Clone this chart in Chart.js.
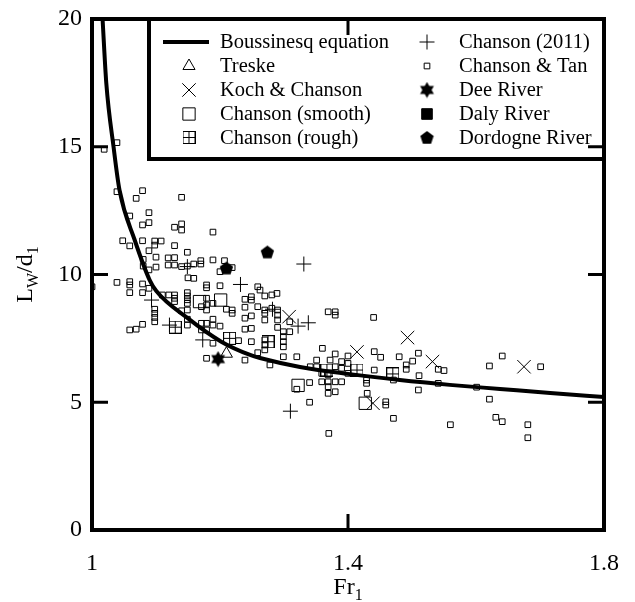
<!DOCTYPE html>
<html>
<head>
<meta charset="utf-8">
<script src="https://cdn.jsdelivr.net/npm/chart.js@4.4.1/dist/chart.umd.min.js"></script>
<style>
  html, body { margin: 0; padding: 0; background: #fff; }
  #wrap { width: 635px; height: 602px; }
</style>
</head>
<body>
<div id="wrap"><canvas id="wavelengthChart" width="635" height="602"></canvas></div>
<script>
// axis ticks
const xTicks = [1, 1.4, 1.8];
const yTicks = [0, 5, 10, 15, 20];

// Boussinesq equation
const boussFr = [1.0165, 1.0223, 1.0339, 1.043, 1.0667, 1.0901, 1.1005, 1.15, 1.202, 1.247, 1.2625, 1.325, 1.4, 1.481, 1.559, 1.6375, 1.716, 1.8];
const boussL  = [20.0, 17.5, 14.95, 13.3, 11.35, 9.78, 9.35, 8.28, 7.37, 6.85, 6.73, 6.38, 6.11, 5.87, 5.68, 5.52, 5.36, 5.21];

// Treske
const treskeFr = [1.210];
const treskeL  = [6.9];

// Koch & Chanson
const kochFr = [1.308, 1.414, 1.493, 1.532, 1.439, 1.675];
const kochL  = [8.35, 6.97, 7.53, 6.59, 4.96, 6.39];

// Chanson (smooth)
const smoothFr = [1.168, 1.201, 1.322, 1.427];
const smoothL  = [8.94, 9.0, 5.66, 4.96];

// Chanson (rough)
const roughFr = [1.130, 1.215, 1.275, 1.367, 1.414, 1.470];
const roughL  = [7.94, 7.50, 7.37, 6.26, 6.26, 6.11];

// Chanson (2011)
const ch2011Fr = [1.093, 1.121, 1.173, 1.149, 1.232, 1.282, 1.322, 1.338, 1.331, 1.310];
const ch2011L  = [9.0, 8.02, 7.44, 10.31, 9.61, 8.64, 7.98, 8.11, 10.41, 4.65];

// Chanson & Tan
const tanFr = [
  1.039, 1.019, 1.039, 1.079, 1.069, 1.140, 1.089, 1.059, 1.089, 1.079, 1.140, 1.129, 1.140, 1.189, 1.048, 1.059,
  1.079, 1.098, 1.108, 1.098, 1.129, 1.149, 1.089, 1.080, 1.100, 1.119, 1.129, 1.119, 1.129, 1.080, 1.089, 1.100,
  1.140, 1.149, 1.159, 1.170, 1.170, 1.189, 1.200, 1.207, 1.219, 1.039, 1.059, 1.059, 1.079, 1.089, 1.150, 1.159,
  1.179, 1.200, 1.259, 1.000, 1.2625, 1.281, 1.289, 1.059, 1.079, 1.179, 1.270, 1.110, 1.120, 1.129, 1.129, 1.129,
  1.149, 1.149, 1.149, 1.149, 1.179, 1.179, 1.189, 1.179, 1.171, 1.210, 1.219, 1.219, 1.239, 1.249, 1.249, 1.239,
  1.259, 1.270, 1.270, 1.270, 1.098, 1.098, 1.098, 1.098, 1.140, 1.149, 1.149, 1.149, 1.059, 1.069, 1.079, 1.171,
  1.179, 1.189, 1.189, 1.200, 1.179, 1.171, 1.239, 1.249, 1.239, 1.249, 1.229, 1.249, 1.189, 1.179, 1.239, 1.259,
  1.270, 1.270, 1.270, 1.281, 1.290, 1.290, 1.290, 1.369, 1.380, 1.380, 1.309, 1.290, 1.299, 1.299, 1.299, 1.299,
  1.440, 1.360, 1.441, 1.451, 1.480, 1.510, 1.501, 1.491, 1.491, 1.511, 1.441, 1.510, 1.430, 1.340, 1.340, 1.459,
  1.459, 1.471, 1.309, 1.299, 1.278, 1.320, 1.380, 1.372, 1.380, 1.351, 1.341, 1.351, 1.400, 1.400, 1.400, 1.390,
  1.390, 1.359, 1.369, 1.359, 1.369, 1.380, 1.390, 1.369, 1.369, 1.380, 1.320, 1.471, 1.429, 1.429, 1.541, 1.550,
  1.541, 1.641, 1.621, 1.701, 1.601, 1.621, 1.560, 1.631, 1.641, 1.681, 1.681, 1.370
];
const tanL = [
  15.16, 14.90, 13.24, 13.28, 12.98, 13.02, 12.42, 12.29, 12.03, 11.94, 11.98, 11.85, 11.74, 11.66, 11.32, 11.12,
  11.32, 11.31, 11.31, 11.15, 11.13, 10.87, 10.93, 10.59, 10.68, 10.65, 10.66, 10.37, 10.37, 10.33, 10.18, 10.29,
  10.31, 10.33, 10.41, 10.54, 10.41, 10.57, 10.11, 10.54, 10.27, 9.69, 9.72, 9.59, 9.63, 9.46, 9.87, 9.85,
  9.59, 9.56, 9.52, 9.52, 9.39, 9.20, 9.26, 9.29, 9.29, 9.48, 9.16, 9.20, 9.20, 9.20, 9.07, 8.94,
  9.29, 9.16, 9.01, 8.87, 9.07, 8.81, 8.87, 8.61, 8.74, 8.64, 8.61, 8.48, 9.03, 9.13, 9.00, 8.72,
  8.74, 8.61, 8.48, 8.22, 8.64, 8.48, 8.32, 8.15, 8.58, 8.61, 8.25, 8.02, 7.83, 7.86, 8.05, 8.09,
  8.09, 8.25, 8.02, 7.98, 7.83, 7.83, 8.29, 8.38, 7.86, 7.89, 7.41, 7.37, 7.31, 6.72, 6.65, 6.94,
  7.05, 7.44, 7.24, 8.68, 8.61, 8.41, 8.22, 8.54, 8.54, 8.41, 8.15, 7.93, 7.76, 7.57, 7.37, 7.17,
  8.32, 7.11, 6.98, 6.76, 6.78, 6.92, 6.61, 6.46, 6.29, 6.04, 6.26, 5.48, 5.35, 5.77, 5.00, 5.02,
  4.89, 4.37, 7.76, 6.78, 6.46, 6.78, 6.89, 6.65, 6.39, 6.65, 6.39, 6.39, 6.81, 6.52, 6.13, 6.59,
  6.33, 6.13, 6.07, 5.80, 5.80, 5.80, 5.80, 5.61, 5.35, 5.41, 5.51, 5.87, 5.87, 5.74, 6.29, 6.24,
  5.74, 6.81, 6.42, 6.39, 5.59, 5.12, 4.12, 4.41, 4.24, 4.12, 3.61, 3.78
];

// Dee River
const deeFr = [1.197];
const deeL  = [6.69];

// Daly River
const dalyFr = [];
const dalyL  = [];

// Dordogne River
const dordogneFr = [1.274, 1.210];
const dordogneL  = [10.88, 10.25];

const serif = "'Liberation Serif', 'Times New Roman', serif";
const pts = (xs, ys) => xs.map((x, i) => ({ x: x, y: ys[i] }));

// small canvases for the markers that Chart.js has no built-in style for
function markCanvas(size, draw) {
  const c = document.createElement('canvas');
  c.width = size;
  c.height = size;
  draw(c.getContext('2d'), size);
  return c;
}

const roughMark = markCanvas(13, (g, s) => {
  g.strokeStyle = '#000';
  g.lineWidth = 1;
  g.strokeRect(0.5, 0.5, s - 1, s - 1);
  g.beginPath();
  g.moveTo(6.5, 0.5); g.lineTo(6.5, s - 0.5);
  g.moveTo(0.5, 6.5); g.lineTo(s - 0.5, 6.5);
  g.stroke();
});

const starMark = markCanvas(17, (g, s) => {
  const c = s / 2, r = 8;
  g.fillStyle = '#000';
  [0, Math.PI].forEach(rot => {
    g.beginPath();
    for (let k = 0; k < 3; k++) {
      const a = rot - Math.PI / 2 + k * 2 * Math.PI / 3;
      g.lineTo(c + r * Math.cos(a), c + r * Math.sin(a));
    }
    g.closePath();
    g.fill();
  });
});

const pentagonMark = markCanvas(15, (g, s) => {
  const c = s / 2, r = 7;
  g.fillStyle = '#000';
  g.beginPath();
  for (let k = 0; k < 5; k++) {
    const a = -Math.PI / 2 + k * 2 * Math.PI / 5;
    g.lineTo(c + r * Math.cos(a), c + 0.6 + r * Math.sin(a));
  }
  g.closePath();
  g.fill();
});

function markers(label, xs, ys, style, radius, fill) {
  return {
    label: label,
    data: pts(xs, ys),
    pointStyle: style,
    pointRadius: radius,
    pointBorderWidth: 1,
    borderColor: '#000',
    pointBorderColor: '#000',
    backgroundColor: fill || 'rgba(0,0,0,0)',
    pointBackgroundColor: fill || 'rgba(0,0,0,0)'
  };
}

const datasets = [
  {
    label: 'Boussinesq equation',
    data: pts(boussFr, boussL),
    showLine: true,
    borderColor: '#000',
    borderWidth: 4,
    pointRadius: 0,
    cubicInterpolationMode: 'monotone'
  },
  markers('Treske', treskeFr, treskeL, 'triangle', 7),
  markers('Koch & Chanson', kochFr, kochL, 'crossRot', 9.5),
  markers('Chanson (smooth)', smoothFr, smoothL, 'rect', 8.7),
  markers('Chanson (rough)', roughFr, roughL, roughMark, 7),
  markers('Chanson (2011)', ch2011Fr, ch2011L, 'cross', 7.5),
  markers('Chanson & Tan', tanFr, tanL, 'rect', 4),
  markers('Dee River', deeFr, deeL, starMark, 8),
  markers('Daly River', dalyFr, dalyL, 'rect', 7.5, '#000'),
  markers('Dordogne River', dordogneFr, dordogneL, pentagonMark, 7)
];

function drawMark(ctx, ds, x, y) {
  ctx.save();
  ctx.strokeStyle = ds.pointBorderColor || '#000';
  ctx.fillStyle = ds.pointBackgroundColor || 'rgba(0,0,0,0)';
  ctx.lineWidth = ds.pointBorderWidth || 1;
  Chart.helpers.drawPoint(ctx, {
    pointStyle: ds.pointStyle,
    radius: ds.pointRadius,
    rotation: 0,
    borderWidth: ds.pointBorderWidth || 1
  }, x, y);
  ctx.restore();
}

// text with a subscript part: [[text, isSub], ...], centred at cx
function drawSubText(ctx, parts, cx, baseline) {
  const big = '24px ' + serif, small = '16px ' + serif;
  let w = 0;
  parts.forEach(p => { ctx.font = p[1] ? small : big; w += ctx.measureText(p[0]).width; });
  let x = cx - w / 2;
  ctx.textAlign = 'left';
  ctx.textBaseline = 'alphabetic';
  parts.forEach(p => {
    ctx.font = p[1] ? small : big;
    ctx.fillText(p[0], x, baseline + (p[1] ? 6 : 0));
    x += ctx.measureText(p[0]).width;
  });
}

const framePlugin = {
  id: 'frame',
  afterDraw(chart) {
    const ctx = chart.ctx;
    const { left, right, top, bottom } = chart.chartArea;
    const xs = chart.scales.x, ys = chart.scales.y;
    ctx.save();

    // legend box
    const lx = 149, ly = top, lw = right - 149, lh = 159 - top;
    ctx.fillStyle = '#fff';
    ctx.fillRect(lx, ly, lw, lh);
    ctx.lineWidth = 4;
    ctx.strokeStyle = '#000';
    ctx.strokeRect(lx, ly, lw, lh);

    const rows = [42, 66, 90, 114, 137.5];
    const col1 = datasets.slice(0, 5), col2 = datasets.slice(5);
    col1.forEach((ds, i) => {
      if (i === 0) {
        ctx.beginPath();
        ctx.lineWidth = 4;
        ctx.moveTo(163, rows[0]);
        ctx.lineTo(209, rows[0]);
        ctx.stroke();
      } else {
        drawMark(ctx, ds, 189, rows[i]);
      }
      ctx.fillStyle = '#000';
      ctx.font = '20.5px ' + serif;
      ctx.textAlign = 'left';
      ctx.textBaseline = 'middle';
      ctx.fillText(ds.label, 220, rows[i] + 1);
    });
    col2.forEach((ds, i) => {
      drawMark(ctx, ds, 427, rows[i]);
      ctx.fillStyle = '#000';
      ctx.font = '20.5px ' + serif;
      ctx.textAlign = 'left';
      ctx.textBaseline = 'middle';
      ctx.fillText(ds.label, 459, rows[i] + 1);
    });

    // plot frame with inward ticks
    ctx.strokeStyle = '#000';
    ctx.lineWidth = 4;
    ctx.strokeRect(left, top, right - left, bottom - top);
    ctx.lineWidth = 3;
    ctx.beginPath();
    yTicks.slice(1, -1).forEach(v => {
      const py = ys.getPixelForValue(v);
      ctx.moveTo(left, py); ctx.lineTo(left + 16, py);
      ctx.moveTo(right, py); ctx.lineTo(right - 16, py);
    });
    xTicks.slice(1, -1).forEach(v => {
      const px = xs.getPixelForValue(v);
      ctx.moveTo(px, bottom); ctx.lineTo(px, bottom - 16);
      ctx.moveTo(px, top); ctx.lineTo(px, top + 16);
    });
    ctx.stroke();

    // axis titles
    ctx.fillStyle = '#000';
    drawSubText(ctx, [['Fr', false], ['1', true]], (left + right) / 2, 594);
    ctx.translate(32, (top + bottom) / 2);
    ctx.rotate(-Math.PI / 2);
    drawSubText(ctx, [['L', false], ['W', true], ['/d', false], ['1', true]], 0, 0);
    ctx.restore();
  }
};

const tickFont = { family: serif, size: 24 };

new Chart(document.getElementById('wavelengthChart'), {
  type: 'scatter',
  data: { datasets: datasets },
  options: {
    responsive: false,
    animation: false,
    events: [],
    layout: { padding: { left: 0, top: 19, right: 31, bottom: 0 } },
    plugins: { legend: { display: false }, tooltip: { enabled: false } },
    scales: {
      x: {
        type: 'linear',
        min: 1,
        max: 1.8,
        afterFit: s => { s.height = 72; s.paddingLeft = 0; s.paddingRight = 0; },
        afterBuildTicks: s => { s.ticks = xTicks.map(v => ({ value: v })); },
        grid: { display: false, drawTicks: false },
        border: { display: false },
        ticks: { font: tickFont, color: '#000', padding: 19, maxRotation: 0, autoSkip: false, callback: v => String(v) }
      },
      y: {
        type: 'linear',
        min: 0,
        max: 20,
        afterFit: s => { s.width = 92; s.paddingTop = 0; s.paddingBottom = 0; },
        afterBuildTicks: s => { s.ticks = yTicks.map(v => ({ value: v })); },
        grid: { display: false, drawTicks: false },
        border: { display: false },
        ticks: { font: tickFont, color: '#000', padding: 10, autoSkip: false, callback: v => String(v) }
      }
    }
  },
  plugins: [framePlugin]
});
</script>
</body>
</html>
